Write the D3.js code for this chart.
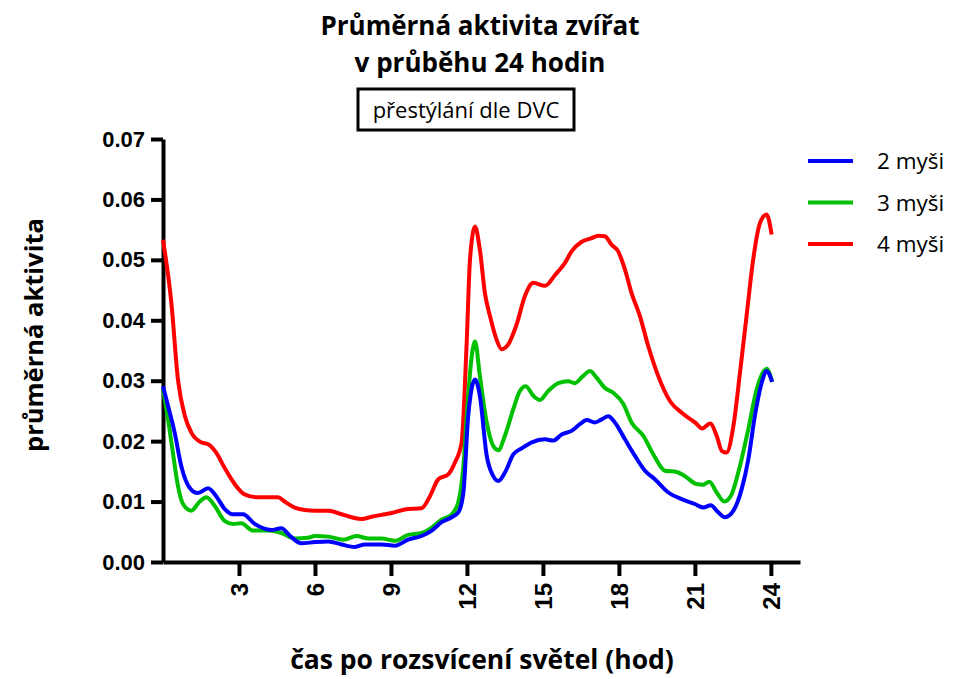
<!DOCTYPE html>
<html>
<head>
<meta charset="utf-8">
<script src="https://cdn.jsdelivr.net/npm/d3@7"></script>
<style>
  body { margin: 0; background: #fff; }
  svg { display: block; }
</style>
</head>
<body>
<svg id="chart" width="955" height="679"></svg>
<script>
// hodiny a hodnoty
const redHours = [0, 0.33, 0.59, 0.86, 1.12, 1.51, 1.78, 2.1, 2.43, 2.83, 3.22, 3.75, 4.28, 4.54, 4.8, 5.2, 5.6, 6.0, 6.53, 7.05, 7.45, 7.84, 8.24, 8.63, 9.03, 9.55, 10.21, 10.54, 10.87, 11.26, 11.53, 11.79, 11.99, 12.12, 12.32, 12.51, 12.71, 12.91, 13.17, 13.37, 13.63, 13.96, 14.29, 14.62, 15.08, 15.48, 15.87, 16.13, 16.53, 16.92, 17.19, 17.45, 17.71, 17.97, 18.24, 18.5, 18.83, 19.16, 19.55, 20.02, 20.48, 21.0, 21.29, 21.6, 21.86, 22.06, 22.25, 22.52, 22.78, 23.04, 23.3, 23.57, 23.83, 24.03];
const red = [0.0533, 0.0429, 0.0302, 0.0242, 0.0214, 0.0198, 0.0195, 0.0181, 0.0156, 0.0129, 0.0112, 0.0107, 0.0107, 0.0107, 0.0100, 0.0090, 0.0086, 0.0085, 0.0085, 0.0079, 0.0074, 0.0071, 0.0075, 0.0078, 0.0081, 0.0087, 0.0089, 0.0109, 0.0137, 0.0145, 0.0165, 0.0198, 0.0363, 0.0500, 0.0555, 0.0517, 0.0445, 0.0407, 0.0368, 0.0352, 0.0360, 0.0393, 0.0440, 0.0462, 0.0457, 0.0475, 0.0495, 0.0514, 0.0530, 0.0536, 0.0540, 0.0539, 0.0525, 0.0514, 0.0484, 0.0445, 0.0407, 0.0357, 0.0308, 0.0266, 0.0247, 0.0231, 0.0221, 0.0229, 0.0209, 0.0184, 0.0181, 0.0225, 0.0313, 0.0407, 0.0500, 0.0561, 0.0575, 0.0542];

const greenHours = [0, 0.2, 0.39, 0.59, 0.79, 1.12, 1.45, 1.71, 2.04, 2.43, 2.76, 3.09, 3.55, 4.15, 4.67, 5.2, 5.72, 6.0, 6.53, 7.12, 7.64, 8.1, 8.63, 9.16, 9.68, 10.21, 10.61, 11.0, 11.4, 11.66, 11.86, 11.99, 12.19, 12.32, 12.51, 12.78, 13.04, 13.24, 13.5, 13.83, 14.09, 14.32, 14.62, 14.88, 15.21, 15.61, 16.0, 16.26, 16.59, 16.86, 17.12, 17.45, 17.78, 18.17, 18.5, 18.96, 19.36, 19.82, 20.28, 20.61, 21.07, 21.33, 21.57, 21.86, 22.16, 22.45, 22.78, 23.11, 23.44, 23.83, 24.05];
const green = [0.0286, 0.0236, 0.0181, 0.0126, 0.0096, 0.0085, 0.0100, 0.0107, 0.0093, 0.0068, 0.0063, 0.0064, 0.0052, 0.0052, 0.0048, 0.0039, 0.0040, 0.0043, 0.0042, 0.0037, 0.0043, 0.0039, 0.0039, 0.0035, 0.0045, 0.0048, 0.0057, 0.0070, 0.0079, 0.0099, 0.0159, 0.0240, 0.0341, 0.0365, 0.0308, 0.0231, 0.0192, 0.0185, 0.0209, 0.0253, 0.0283, 0.0291, 0.0275, 0.0268, 0.0283, 0.0296, 0.0299, 0.0296, 0.0308, 0.0316, 0.0305, 0.0288, 0.0280, 0.0262, 0.0231, 0.0209, 0.0178, 0.0151, 0.0149, 0.0142, 0.0129, 0.0128, 0.0133, 0.0115, 0.0100, 0.0112, 0.0159, 0.0220, 0.0286, 0.0320, 0.0298];

const blueHours = [0, 0.2, 0.46, 0.72, 1.05, 1.38, 1.78, 2.1, 2.43, 2.76, 3.16, 3.62, 4.28, 4.67, 5.07, 5.46, 6.0, 6.53, 7.05, 7.58, 7.97, 8.63, 9.16, 9.68, 10.21, 10.61, 11.0, 11.4, 11.66, 11.86, 12.05, 12.32, 12.51, 12.78, 13.04, 13.24, 13.5, 13.83, 14.16, 14.56, 15.08, 15.41, 15.74, 16.13, 16.46, 16.73, 17.05, 17.32, 17.58, 17.84, 18.24, 18.63, 19.03, 19.42, 19.95, 20.48, 21.0, 21.33, 21.63, 21.86, 22.19, 22.52, 22.85, 23.11, 23.37, 23.64, 23.83, 24.05];
const blue = [0.0291, 0.0258, 0.0214, 0.0159, 0.0123, 0.0114, 0.0122, 0.0109, 0.0088, 0.0079, 0.0079, 0.0063, 0.0053, 0.0056, 0.0041, 0.0031, 0.0033, 0.0034, 0.0029, 0.0025, 0.0029, 0.0029, 0.0027, 0.0037, 0.0043, 0.0052, 0.0066, 0.0074, 0.0082, 0.0115, 0.0242, 0.0302, 0.0275, 0.0176, 0.0142, 0.0134, 0.0148, 0.0178, 0.0188, 0.0198, 0.0203, 0.0201, 0.0211, 0.0217, 0.0228, 0.0235, 0.0231, 0.0236, 0.0241, 0.0231, 0.0203, 0.0176, 0.0151, 0.0137, 0.0115, 0.0104, 0.0096, 0.0090, 0.0094, 0.0085, 0.0074, 0.0085, 0.0121, 0.0170, 0.0242, 0.0297, 0.0316, 0.0298];

const seriesNames = ['2 myši', '3 myši', '4 myši'];
const seriesColors = ['#0000ff', '#00c000', '#ff0000'];
const xTicks = [3, 6, 9, 12, 15, 18, 21, 24];
const yTicks = [0, 0.01, 0.02, 0.03, 0.04, 0.05, 0.06, 0.07];

const svg = d3.select('#chart');

let x = d3.scaleLinear().domain([0, 25.15]).range([163, 800]);
let y = d3.scaleLinear().domain([0, 0.07]).range([562, 139]);

const tickFont = 'Liberation Sans, Arial, sans-serif';
const textFont = 'Open Sans, sans-serif';

// osy
let xAxis = svg.append('g')
  .attr('transform', 'translate(0,562)')
  .call(d3.axisBottom(x).tickValues(xTicks).tickSize(14).tickSizeOuter(0).tickPadding(0).tickFormat(d3.format('d')));
xAxis.select('.domain').attr('stroke-width', 4);
xAxis.selectAll('.tick line').attr('stroke-width', 4);
xAxis.selectAll('.tick text')
  .attr('transform', 'translate(9,21) rotate(-90)')
  .attr('text-anchor', 'end')
  .attr('y', 0).attr('x', 0).attr('dy', 0)
  .style('font-family', tickFont).style('font-weight', 'bold').style('font-size', '24px')
  .attr('fill', '#000');

let yAxis = svg.append('g')
  .attr('transform', 'translate(163,0)')
  .call(d3.axisLeft(y).tickValues(yTicks).tickSize(12).tickSizeOuter(0).tickPadding(6).tickFormat(d3.format('.2f')));
yAxis.select('.domain').attr('stroke-width', 4);
yAxis.selectAll('.tick line').attr('stroke-width', 4);
yAxis.selectAll('.tick text')
  .style('font-family', tickFont).style('font-weight', 'bold').style('font-size', '22px')
  .attr('fill', '#000');

// křivky
let line = d3.line()
  .x((d) => x(d[0]))
  .y((d) => y(d[1]))
  .curve(d3.curveMonotoneX);

let seriesData = [
  d3.zip(blueHours, blue),
  d3.zip(greenHours, green),
  d3.zip(redHours, red)
];

[2, 1, 0].forEach((i) => {
  svg.append('path')
    .datum(seriesData[i])
    .attr('d', line)
    .attr('fill', 'none')
    .attr('stroke', seriesColors[i])
    .attr('stroke-width', 4)
    .attr('stroke-linejoin', 'round');
});

// titulky
svg.append('text')
  .attr('x', 480).attr('y', 35)
  .attr('text-anchor', 'middle')
  .style('font-family', textFont).style('font-weight', 'bold').style('font-size', '26px')
  .text('Průměrná aktivita zvířat');

svg.append('text')
  .attr('x', 480).attr('y', 72)
  .attr('text-anchor', 'middle')
  .style('font-family', textFont).style('font-weight', 'bold').style('font-size', '26px')
  .text('v průběhu 24 hodin');

svg.append('rect')
  .attr('x', 358).attr('y', 89)
  .attr('width', 216).attr('height', 41)
  .attr('fill', 'none').attr('stroke', '#000').attr('stroke-width', 3);

svg.append('text')
  .attr('x', 466).attr('y', 118)
  .attr('text-anchor', 'middle')
  .style('font-family', textFont).style('font-size', '22px')
  .text('přestýlání dle DVC');

svg.append('text')
  .attr('transform', 'translate(43,335) rotate(-90)')
  .attr('text-anchor', 'middle')
  .style('font-family', textFont).style('font-weight', 'bold').style('font-size', '25.5px')
  .text('průměrná aktivita');

svg.append('text')
  .attr('x', 482).attr('y', 669)
  .attr('text-anchor', 'middle')
  .style('font-family', textFont).style('font-weight', 'bold').style('font-size', '26.5px')
  .text('čas po rozsvícení světel (hod)');

// legenda
let legend = svg.append('g');
seriesNames.forEach((name, i) => {
  let ly = 161 + i * 41.5;
  legend.append('line')
    .attr('x1', 808).attr('x2', 853)
    .attr('y1', ly).attr('y2', ly)
    .attr('stroke', seriesColors[i]).attr('stroke-width', 4);
  legend.append('text')
    .attr('x', 877).attr('y', ly + 8)
    .style('font-family', textFont).style('font-size', '22.5px')
    .text(name);
});
</script>
</body>
</html>
